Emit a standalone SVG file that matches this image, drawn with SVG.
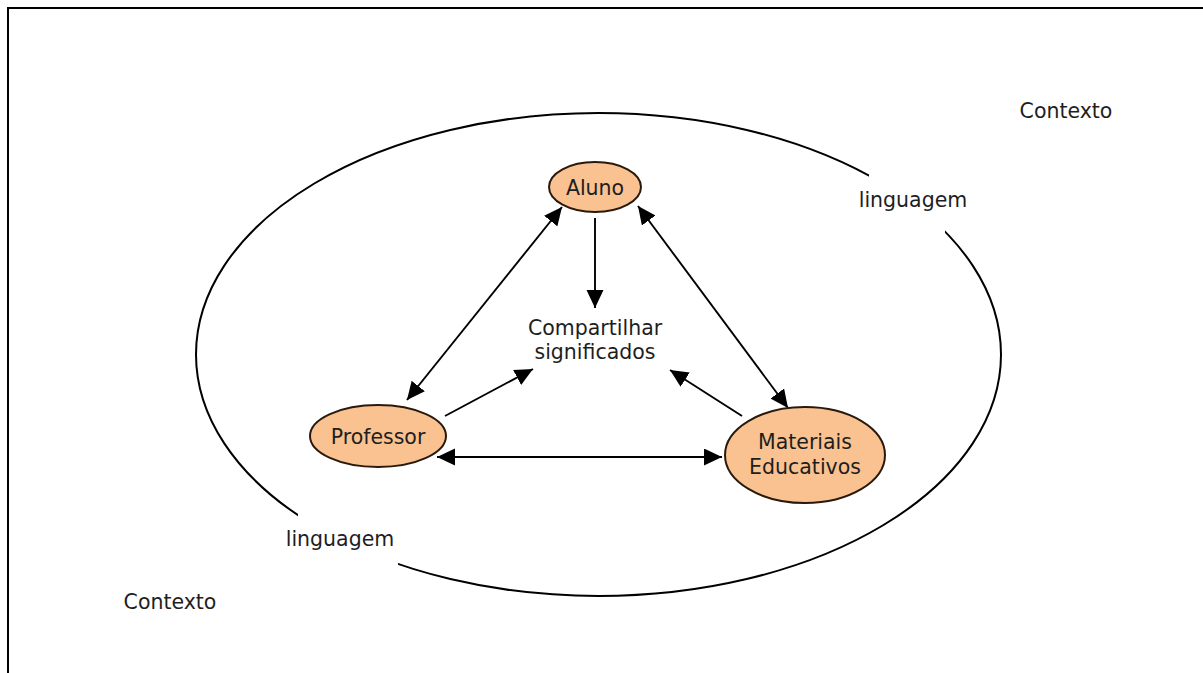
<svg xmlns="http://www.w3.org/2000/svg" width="1203" height="673" viewBox="0 0 1203 673">
<style>
.lbl{font-family:"DejaVu Sans",Verdana,sans-serif;font-size:20.5px;fill:#1e1e1e;text-anchor:middle}
.node{fill:#F9C290;stroke:#2a1a0e;stroke-width:2}
.conn{stroke:#000;stroke-width:1.9;fill:none}
</style>
<defs>
<marker id="ah" markerUnits="userSpaceOnUse" markerWidth="20" markerHeight="18" refX="18" refY="8.5" orient="auto-start-reverse">
<path d="M0,0 L18,8.5 L0,17 z" fill="#000"/>
</marker>
</defs>
<rect width="1203" height="673" fill="#fff"/>
<path d="M8,673 L8,8 L1203,8" fill="none" stroke="#000" stroke-width="2"/>
<g id="contexto">
<ellipse cx="598.5" cy="354.5" rx="402.5" ry="241.5" fill="none" stroke="#000" stroke-width="2"/>
<rect x="869" y="170" width="76" height="64" fill="#fff"/>
<rect x="298" y="512" width="100" height="54" fill="#fff"/>
<text class="lbl" x="1066" y="118">Contexto</text>
<text class="lbl" x="170" y="609">Contexto</text>
<text class="lbl" x="913" y="207">linguagem</text>
<text class="lbl" x="340" y="546">linguagem</text>
</g>
<g id="connectors">
<line class="conn" x1="562" y1="207" x2="407" y2="400" marker-start="url(#ah)" marker-end="url(#ah)"/>
<line class="conn" x1="638" y1="206" x2="788" y2="408" marker-start="url(#ah)" marker-end="url(#ah)"/>
<line class="conn" x1="595" y1="218" x2="595" y2="308" marker-end="url(#ah)"/>
<line class="conn" x1="445" y1="416" x2="533" y2="369" marker-end="url(#ah)"/>
<line class="conn" x1="742" y1="416" x2="670" y2="370" marker-end="url(#ah)"/>
<line class="conn" x1="437" y1="457" x2="722" y2="457" marker-start="url(#ah)" marker-end="url(#ah)"/>
</g>
<g id="aluno">
<ellipse class="node" cx="595" cy="187" rx="46" ry="25"/>
<text class="lbl" x="595" y="195">Aluno</text>
</g>
<g id="professor">
<ellipse class="node" cx="378" cy="436" rx="68" ry="31"/>
<text class="lbl" x="378" y="444">Professor</text>
</g>
<g id="materiais">
<ellipse class="node" cx="805" cy="455" rx="80" ry="48"/>
<text class="lbl" x="805" y="449">Materiais</text>
<text class="lbl" x="805" y="474">Educativos</text>
</g>
<g id="compartilhar">
<text class="lbl" x="595" y="335">Compartilhar</text>
<text class="lbl" x="595" y="359">significados</text>
</g>
</svg>
